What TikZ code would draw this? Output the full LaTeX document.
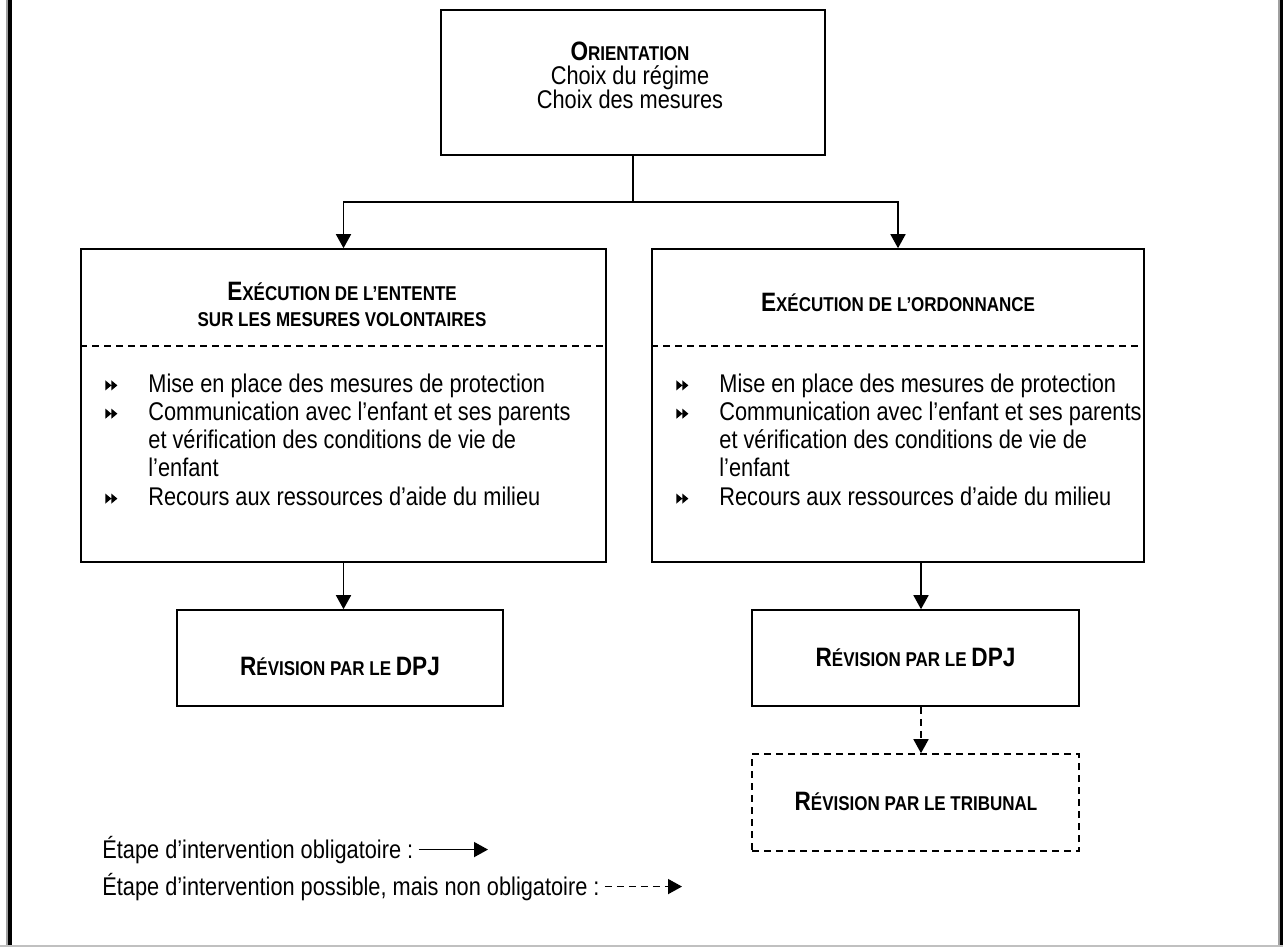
\documentclass[tikz,border=0pt]{standalone}
\usepackage{fontspec}
\setmainfont{Liberation Sans}[FakeStretch=0.85]
\usetikzlibrary{arrows.meta,calc}

% text sizes
\newcommand{\bodyfont}{\fontsize{12.8}{14.15}\selectfont}
\newcommand{\scbig}[1]{{\fontsize{13.3}{14}\selectfont\bfseries #1}}
\newcommand{\scsmall}[1]{{\fontsize{10}{12}\selectfont\bfseries #1}}
% double triangle bullet
\newcommand{\dtri}{\tikz[baseline=0pt]\fill (0pt,0.8pt)--(0pt,5.8pt)--(3pt,3.3pt)--cycle (3pt,0.8pt)--(3pt,5.8pt)--(6pt,3.3pt)--cycle;}
\newcommand{\bitem}[1]{\hbox{\hbox to 21.5pt{\dtri\hfil}#1}}
\newcommand{\citem}[1]{\hbox{\hskip21.5pt #1}}
\newcommand{\ctrline}[1]{\hbox to 0pt{\hss #1\hss}}
\newcommand{\linestack}[2]{\vtop{\baselineskip=#1\lineskiplimit=-100pt\relax #2}}

\definecolor{framegray}{HTML}{A0A0A0}
\definecolor{edgegray}{HTML}{C0C0C0}

\tikzset{
  ln/.style={line width=0.8pt},
  box/.style={draw, ln, inner sep=0pt},
  dashpat/.style={dash pattern=on 3.5pt off 2.5pt},
  dbox/.style={box, dashpat},
  sepline/.style={ln, dashpat},
  arr/.style={ln, -{Triangle[length=7pt,width=7.5pt]}},
  darr/.style={arr, dashpat},
  txt/.style={inner sep=0pt},
}

\begin{document}
\begin{tikzpicture}[x=0.5pt, y=-0.5pt, font=\bodyfont]
\useasboundingbox (0,0) rectangle (1283,947);

% page border
\draw[line width=1pt, framegray] (7,0) -- (7,947);
\draw[line width=1.6pt] (10,0) -- (10,947);
\draw[line width=1pt, framegray] (1278.5,0) -- (1278.5,947);
\draw[line width=1.6pt] (1281.5,0) -- (1281.5,947);
\draw[line width=0.8pt, edgegray] (0,946) -- (1283,946);

% boxes
\node[box, minimum width=192pt, minimum height=72.5pt] (orient) at (633,82.5) {};
\node[box, minimum width=262.5pt, minimum height=156.5pt] (left) at (343.5,405.5) {};
\node[box, minimum width=246pt, minimum height=156.5pt] (right) at (898,405.5) {};
\node[box, minimum width=163pt, minimum height=48pt] (lowL) at (340,658) {};
\node[box, minimum width=163.5pt, minimum height=48pt] (lowR) at (915.5,658) {};
\node[dbox, minimum width=163.5pt, minimum height=48.5pt] (trib) at (915.5,802.5) {};

% separators inside the two large boxes
\coordinate (sepy) at (0,346);
\draw[sepline] (left.west |- sepy) -- (left.east |- sepy);
\draw[sepline] (right.west |- sepy) -- (right.east |- sepy);

% texts
\node[txt, anchor=base] (orientText) at (630,61)
  {\linestack{11.9pt}{\ctrline{\scbig{O}\scsmall{RIENTATION}}\ctrline{Choix du régime}\ctrline{Choix des mesures}}};
\node[txt, anchor=base] (leftTitle) at (342,300)
  {\linestack{13.35pt}{\ctrline{\scbig{E}\scsmall{XÉCUTION DE L’ENTENTE}}\ctrline{\scsmall{SUR LES MESURES VOLONTAIRES}}}};
\node[txt, anchor=base] (rightTitle) at (898,311.7)
  {\scbig{E}\scsmall{XÉCUTION DE L’ORDONNANCE}};

\node[txt, anchor=base west] (leftList) at (105,392)
  {\linestack{14.15pt}{%
    \bitem{Mise en place des mesures de protection}%
    \bitem{Communication avec l’enfant et ses parents}%
    \citem{et vérification des conditions de vie de}%
    \citem{l’enfant}%
    \bitem{Recours aux ressources d’aide du milieu}}};
\node[txt, anchor=base west] (rightList) at (676,392)
  {\linestack{14.15pt}{%
    \bitem{Mise en place des mesures de protection}%
    \bitem{Communication avec l’enfant et ses parents}%
    \citem{et vérification des conditions de vie de}%
    \citem{l’enfant}%
    \bitem{Recours aux ressources d’aide du milieu}}};

\node[txt, anchor=base] (lowLText) at (340,675)
  {\scbig{R}\scsmall{ÉVISION PAR LE }\scbig{DPJ}};
\node[txt, anchor=base] (lowRText) at (915.5,666.7)
  {\scbig{R}\scsmall{ÉVISION PAR LE }\scbig{DPJ}};
\node[txt, anchor=base] (tribText) at (916,810)
  {\scbig{R}\scsmall{ÉVISION PAR LE TRIBUNAL}};

% connectors
\coordinate (split) at (633,202);
\draw[ln] (orient.south) -- (split);
\draw[arr] (split) -| (left.north);
\draw[arr] (split) -| (right.north);
\draw[arr] (left.south) -- (left.south |- lowL.north);
\draw[arr] ([xshift=2.75pt]lowR.north |- right.south) -- ([xshift=2.75pt]lowR.north);
\draw[darr] ([xshift=2.75pt]lowR.south) -- ([xshift=2.75pt]trib.north);

% legend
\node[txt, anchor=base west] (leg1) at (102,858) {Étape d’intervention obligatoire :};
\node[txt, anchor=base west] (leg2) at (102,895) {Étape d’intervention possible, mais non obligatoire :};
\coordinate (leg1end) at (488,849);
\coordinate (leg2end) at (682,886);
\draw[arr] ([xshift=2.5pt]leg1.east) -- (leg1.east -| leg1end);
\draw[darr] ([xshift=2.5pt]leg2.east) -- (leg2.east -| leg2end);
\end{tikzpicture}
\end{document}
